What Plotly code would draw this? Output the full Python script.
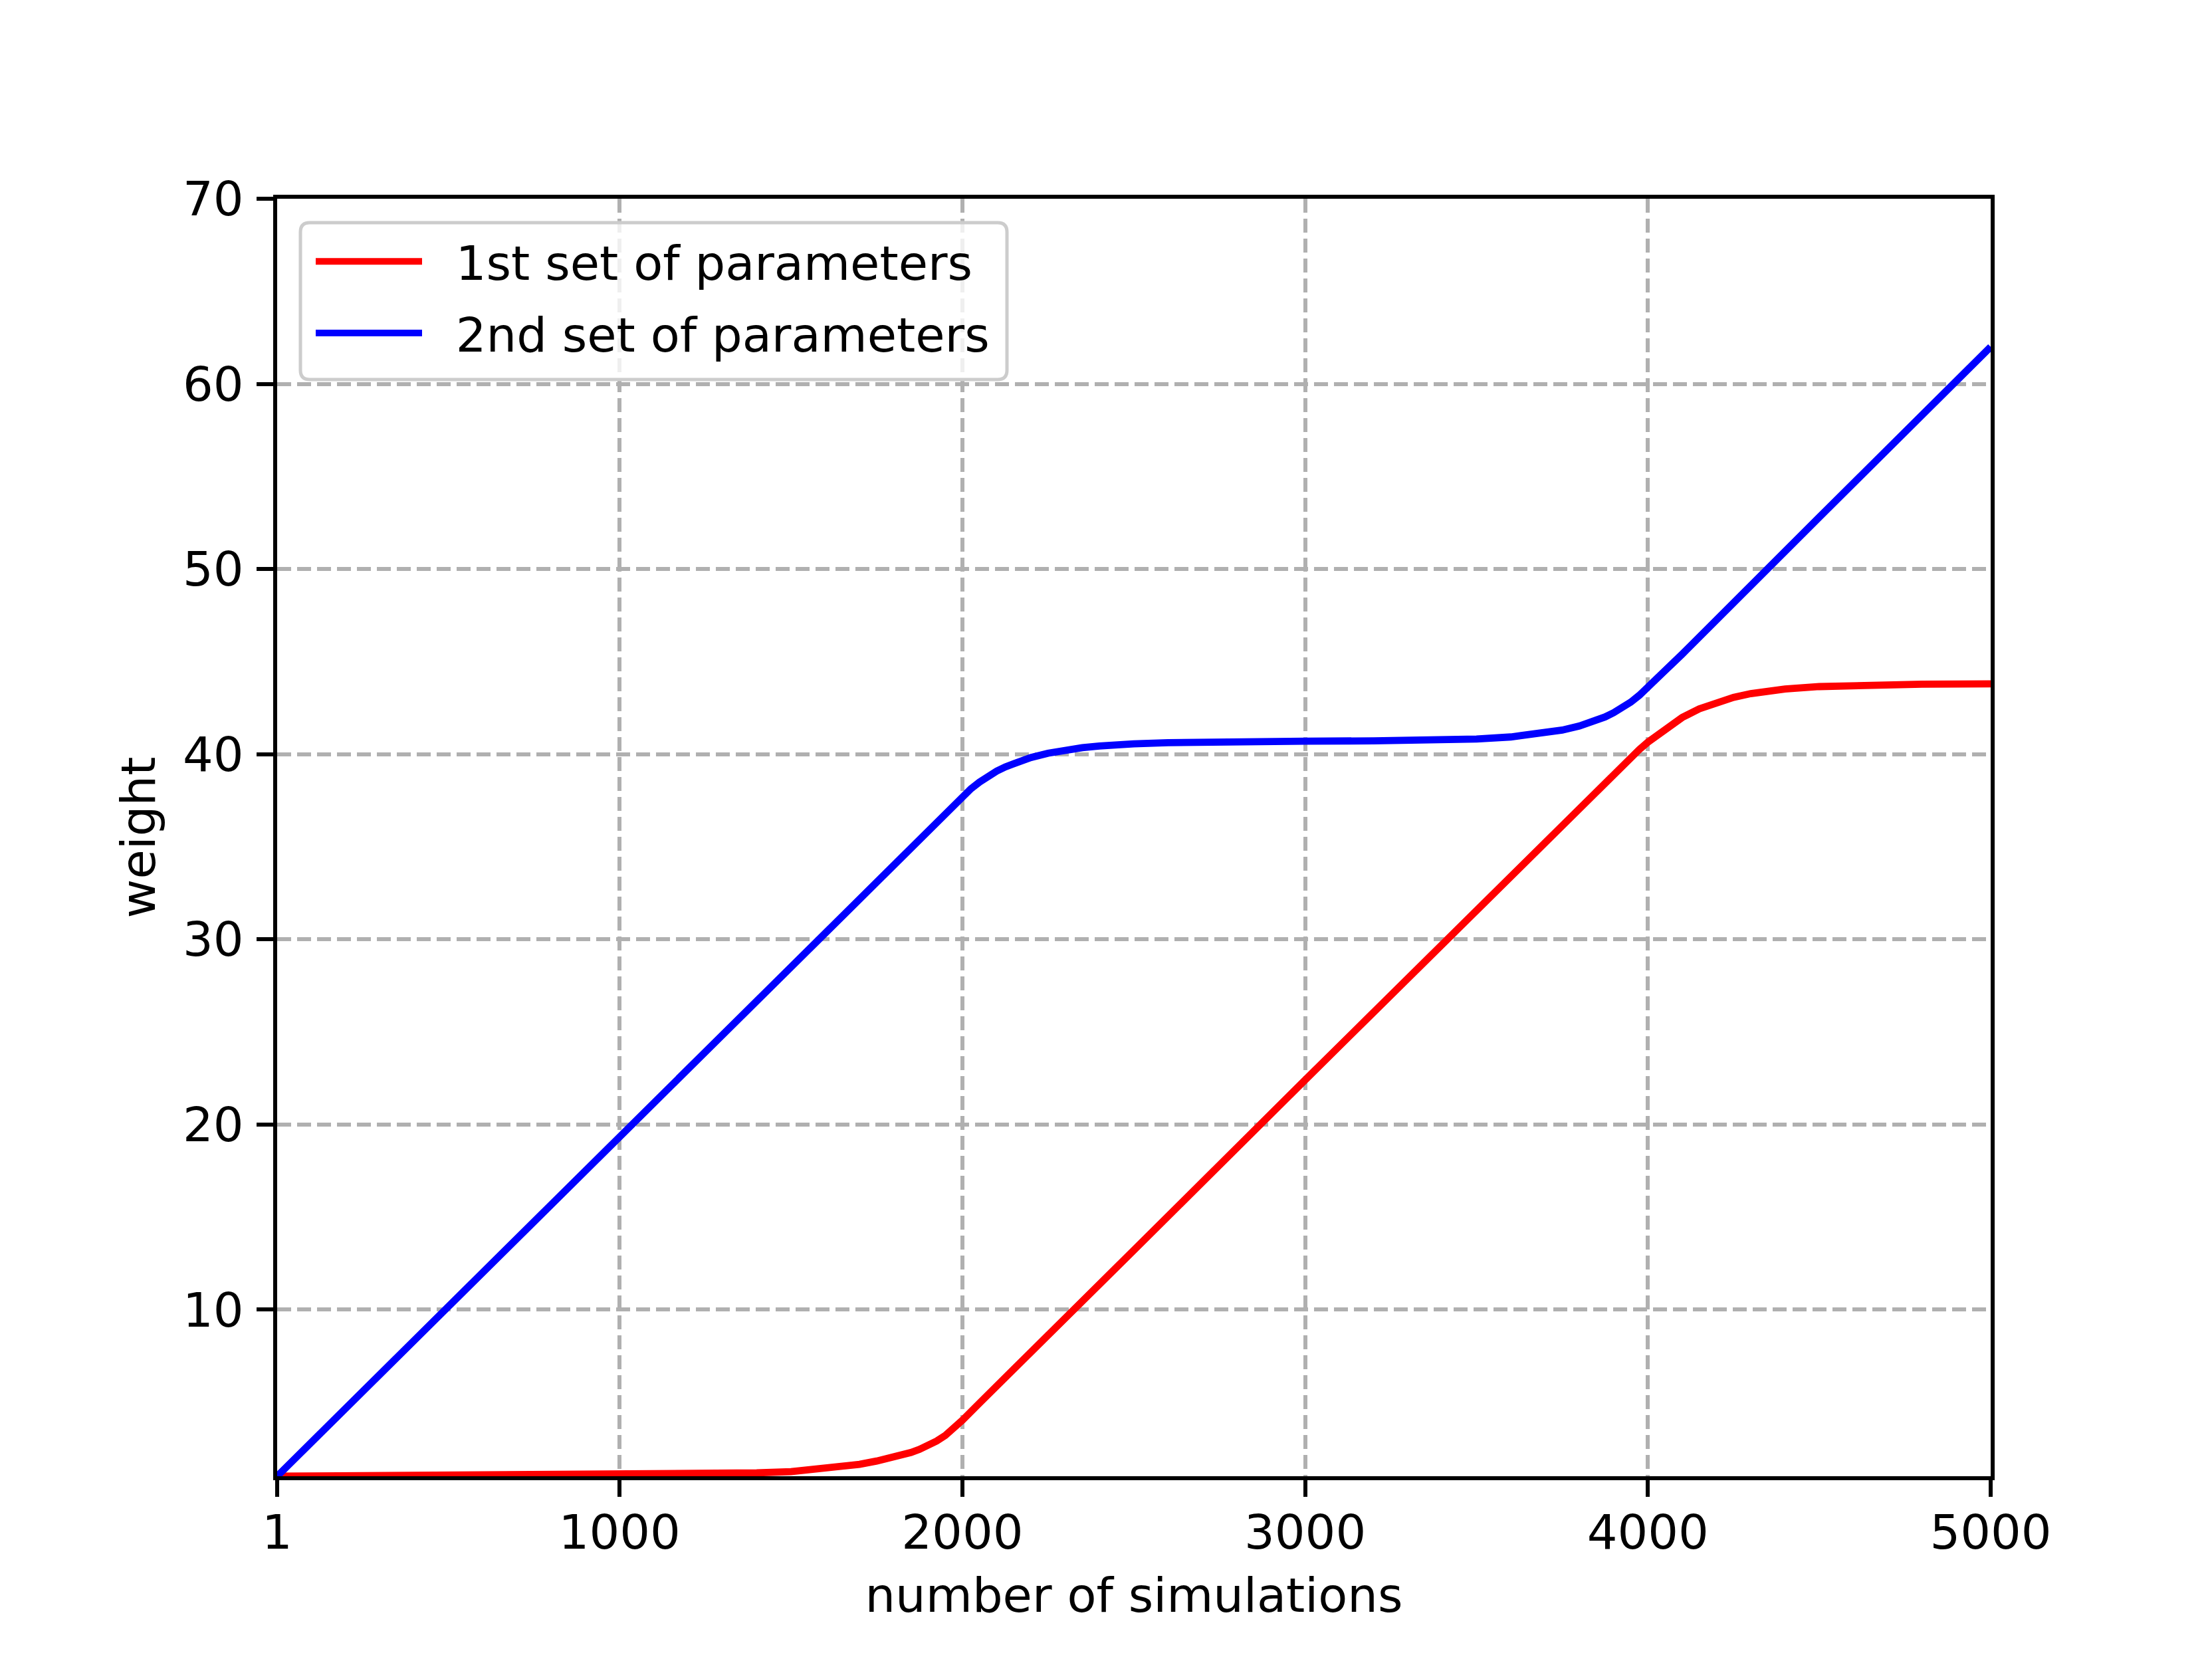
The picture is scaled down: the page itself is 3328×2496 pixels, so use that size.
import plotly.graph_objects as go

# ---- data ----
blue_x = [1, 500, 1000, 1500, 1800, 1900, 1950, 2000, 2025, 2050, 2075, 2100, 2125, 2150, 2175,
          2200, 2250, 2300, 2350, 2400, 2450, 2500, 2600, 2700, 2800, 3000, 3200, 3400, 3500,
          3600, 3700, 3750, 3800, 3850, 3875, 3900, 3925, 3950, 3975, 4000, 4050, 4100, 4500,
          5000]
blue_y = [1.0, 10.17, 19.36, 28.55, 34.07, 35.9, 36.8, 37.7, 38.13, 38.49, 38.81, 39.08, 39.31,
          39.51, 39.67, 39.82, 40.05, 40.22, 40.35, 40.44, 40.51, 40.56, 40.62, 40.66, 40.68,
          40.7, 40.72, 40.76, 40.82, 40.93, 41.13, 41.3, 41.52, 41.82, 42.01, 42.24, 42.5, 42.81,
          43.18, 43.6, 44.5, 45.4, 52.8, 62.0]

red_x = [1, 500, 1000, 1200, 1400, 1500, 1600, 1650, 1700, 1750, 1800, 1850, 1875, 1900, 1925,
         1950, 1975, 2000, 2050, 2100, 2500, 3000, 3500, 3850, 3900, 3950, 3975, 4000, 4025, 4050,
         4075, 4100, 4150, 4200, 4250, 4300, 4350, 4400, 4500, 4600, 4800, 5000]
red_y = [1.0, 1.03, 1.06, 1.1, 1.18, 1.25, 1.42, 1.52, 1.64, 1.82, 2.02, 2.28, 2.45, 2.66, 2.9,
         3.2, 3.58, 4.02, 4.95, 5.86, 13.2, 22.4, 31.6, 38.02, 38.9, 39.8, 40.25, 40.65, 41.0,
         41.35, 41.7, 41.98, 42.45, 42.8, 43.07, 43.27, 43.42, 43.52, 43.65, 43.72, 43.78, 43.8]

series_names = ["1st set of parameters", "2nd set of parameters"]
x_ticks = [1, 1000, 2000, 3000, 4000, 5000]
y_ticks = [10, 20, 30, 40, 50, 60, 70]

FONT = "DejaVu Sans"
FS = 72
BODY = 8  # default page margin of the html body

# plot-area geometry in page pixels
W_FIG, H_FIG = 3328, 2496
L, R, T, B = 417, 2995, 299, 2221
PW, PH = R - L, B - T


def px_to_paper(px, py):
    return (px - L) / PW, (B - py) / PH


fig = go.Figure()
fig.add_trace(go.Scatter(x=red_x, y=red_y, mode="lines", name="\u00a0\u00a0" + series_names[0],
                         legendgroup="g1",
                         line=dict(color="#ff0000", width=10.8)))
fig.add_trace(go.Scatter(x=blue_x, y=blue_y, mode="lines", name="\u00a0\u00a0" + series_names[1],
                         legendgroup="g2",
                         line=dict(color="#0000ff", width=10.8)))

axis_common = dict(
    showline=True, linecolor="black", linewidth=5.8, mirror=True,
    ticks="outside", ticklen=25, tickwidth=5.8, tickcolor="black",
    showgrid=True, gridcolor="#b0b0b0", gridwidth=5.8, griddash="21px,9px",
    zeroline=False,
    tickfont=dict(family=FONT, size=FS, color="black"),
)

fig.update_xaxes(range=[1, 5000], tickvals=x_ticks, ticktext=[str(v) for v in x_ticks],
                 ticklabelstandoff=-8,
                 title=dict(text="number of simulations", font=dict(family=FONT, size=FS, color="black"),
                            standoff=30),
                 **axis_common)
fig.update_yaxes(range=[1, 70], tickvals=y_ticks, ticktext=[str(v) for v in y_ticks],
                 ticklabelstandoff=5,
                 title=dict(text="weight", font=dict(family=FONT, size=FS, color="black"),
                            standoff=20),
                 **axis_common)

# rounded legend frame (matplotlib-style fancy box)
fx0, fy0 = px_to_paper(452, 571)
fx1, fy1 = px_to_paper(1515, 335)
rx, ry = 14 / PW, 14 / PH
frame_path = (f"M{fx0 + rx},{fy0} L{fx1 - rx},{fy0} Q{fx1},{fy0} {fx1},{fy0 + ry} "
              f"L{fx1},{fy1 - ry} Q{fx1},{fy1} {fx1 - rx},{fy1} "
              f"L{fx0 + rx},{fy1} Q{fx0},{fy1} {fx0},{fy1 - ry} "
              f"L{fx0},{fy0 + ry} Q{fx0},{fy0} {fx0 + rx},{fy0} Z")
fig.add_shape(type="path", path=frame_path, xref="paper", yref="paper", layer="above",
              line=dict(color="#cccccc", width=5), fillcolor="rgba(255,255,255,0.8)")

lx, ly = px_to_paper(470, 340)

fig.update_layout(
    width=W_FIG, height=H_FIG,
    margin=dict(l=L - BODY, r=W_FIG - R + BODY, t=T - BODY, b=H_FIG - B + BODY),
    plot_bgcolor="white", paper_bgcolor="white",
    font=dict(family=FONT, size=FS, color="black"),
    showlegend=True,
    legend=dict(x=lx, y=ly, xanchor="left", yanchor="top",
                bgcolor="rgba(0,0,0,0)", borderwidth=0,
                font=dict(family=FONT, size=FS, color="black"),
                itemwidth=160, tracegroupgap=11),
)

fig.write_html("out.html")
